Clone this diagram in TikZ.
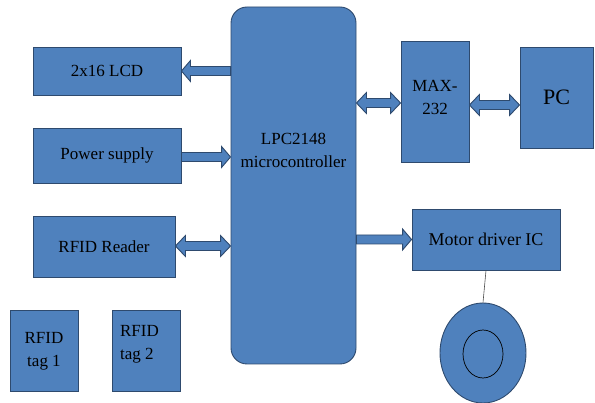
\documentclass[tikz,border=0pt]{standalone}
\usepackage{fontspec}
\setmainfont{Liberation Serif}
\usetikzlibrary{calc,shapes.geometric}
\definecolor{fillblue}{HTML}{4F81BD}
\definecolor{edgeblue}{HTML}{2E4A6E}
\tikzset{
  box/.style={draw=edgeblue, fill=fillblue, line width=0.9pt, inner sep=0pt, align=center,
    font=\fontsize{17}{23}\selectfont, text=black},
  boxlabel/.style={font=\fontsize{17}{23}\selectfont, text=black},
  arr/.style={draw=edgeblue, fill=fillblue, line width=0.9pt, line join=miter},
}
% right-pointing block arrow: tail at #1, tip at #2, at height #3
\newcommand\barR[3]{%
  \path (#1 |- 0,#3) coordinate (s) (#2 |- 0,#3) coordinate (e);
  \draw[arr] ($(s)+(0,-4.5)$) -- ($(e)+(-9,-4.5)$) -- ($(e)+(-9,-10.5)$) -- (e)
    -- ($(e)+(-9,10.5)$) -- ($(e)+(-9,4.5)$) -- ($(s)+(0,4.5)$) -- cycle;}
% left-pointing block arrow: tip at #1, tail at #2, at height #3
\newcommand\barL[3]{%
  \path (#2 |- 0,#3) coordinate (s) (#1 |- 0,#3) coordinate (e);
  \draw[arr] ($(s)+(0,-4.5)$) -- ($(e)+(9,-4.5)$) -- ($(e)+(9,-10.5)$) -- (e)
    -- ($(e)+(9,10.5)$) -- ($(e)+(9,4.5)$) -- ($(s)+(0,4.5)$) -- cycle;}
% double block arrow between #1 (left) and #2 (right) at height #3
\newcommand\barD[3]{%
  \path (#1 |- 0,#3) coordinate (a) (#2 |- 0,#3) coordinate (b);
  \draw[arr] (a) -- ($(a)+(10,-10.5)$) -- ($(a)+(10,-4.5)$) -- ($(b)+(-10,-4.5)$)
    -- ($(b)+(-10,-10.5)$) -- (b) -- ($(b)+(-10,10.5)$) -- ($(b)+(-10,4.5)$)
    -- ($(a)+(10,4.5)$) -- ($(a)+(10,10.5)$) -- cycle;}
\begin{document}
\begin{tikzpicture}[x=1pt,y=-1pt]
\useasboundingbox (0,0) rectangle (595,403);
% microcontroller
\node[box, rounded corners=16pt, minimum width=125pt, minimum height=357pt,
  label={[boxlabel, align=center, yshift=35pt]center:LPC2148\\microcontroller}]
  (micro) at (293.5,185.5) {};
% left blocks
\node[box, minimum width=148pt, minimum height=48pt] (lcd) at (107,71) {2x16 LCD};
\node[box, minimum width=148pt, minimum height=55pt] (psu) at (107,155.5) {Power supply};
\node[box, minimum width=142pt, minimum height=61pt] (rdr) at (104,246.5) {RFID Reader};
\node[box, minimum width=68pt, minimum height=81pt,
  label={[boxlabel, align=center, yshift=-1pt]center:RFID\\tag 1}] (tag1) at (44,350.5) {};
\node[box, minimum width=68pt, minimum height=81pt,
  label={[boxlabel, align=left, anchor=north west, xshift=5pt, yshift=-12pt]north west:RFID\\tag 2}]
  (tag2) at (146,350.5) {};
% right blocks
\node[box, minimum width=68pt, minimum height=121pt,
  label={[boxlabel, align=center, yshift=4pt]center:MAX-\\232}] (max) at (435,101.5) {};
\node[box, minimum width=73pt, minimum height=101pt, font=\fontsize{22}{26}\selectfont] (pc) at (556.5,97.5) {\raisebox{-4pt}{PC}};
\node[box, minimum width=148pt, minimum height=61pt, font=\fontsize{18}{22}\selectfont] (drv) at (486,239.5) {Motor driver IC};
% motor
\node[draw=edgeblue, fill=fillblue, line width=0.9pt, ellipse, inner sep=0pt,
  minimum width=86pt, minimum height=100pt] (motor) at (483,353) {};
\node[draw=black, line width=0.7pt, ellipse, inner sep=0pt,
  minimum width=40pt, minimum height=48pt] (rotor) at (483,354) {};
\draw[line width=0.6pt, draw=black!70] (drv.south) -- (motor.north);
% arrows
\barL{lcd.east}{micro.west}{71}
\barR{psu.east}{micro.west}{157}
\barD{rdr.east}{micro.west}{246}
\barD{micro.east}{max.west}{103}
\barD{max.east}{pc.west}{105}
\barR{micro.east}{drv.west}{239.5}
\end{tikzpicture}
\end{document}
